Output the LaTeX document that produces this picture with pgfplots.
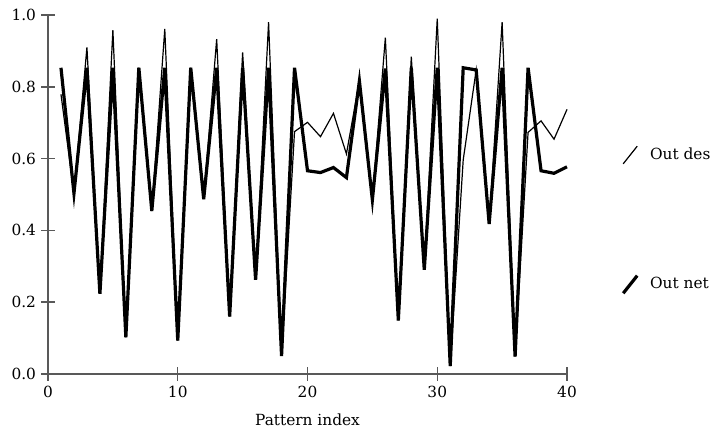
\documentclass[border=0pt]{standalone}
\usepackage{pgfplots}
\pgfplotsset{compat=1.18}
\usepackage{fontspec}
\setmainfont{DejaVu Serif}
\begin{document}
\fontsize{11.5}{13}\selectfont
\begin{tikzpicture}
\begin{axis}[
  scale only axis,
  width=389pt, height=269pt,
  xmin=0, xmax=40, ymin=0, ymax=1,
  axis x line=bottom, axis y line=left,
  axis line style={-, draw=black!65, line width=1.1pt},
  tick style={draw=black!65, line width=1.1pt},
  tick align=center, major tick length=10pt,
  xtick={0,10,20,30,40},
  ytick={0,0.2,0.4,0.6,0.8,1.0},
  yticklabel style={/pgf/number format/.cd, fixed, fixed zerofill, precision=1},
  /pgf/number format/assume math mode=true,
  xlabel={Pattern index},
  xlabel style={yshift=-4pt},
  legend cell align=left,
  legend style={draw=none, fill=none, at={(rel axis cs:1.097,0.645)}, anchor=north west,
    row sep=82pt, font=\fontsize{11.5}{13}\selectfont},
  legend image code/.code={\draw[#1] (0pt,-6.6pt) -- (10.5pt,6.6pt); \path (17pt,0pt);},
  clip=false,
]
\addplot[black, line width=0.9pt] coordinates {
(1,0.779)(2,0.503)(3,0.910)(4,0.223)(5,0.958)(6,0.102)(7,0.853)(8,0.454)(9,0.961)(10,0.093)
(11,0.853)(12,0.487)(13,0.933)(14,0.160)(15,0.896)(16,0.262)(17,0.980)(18,0.050)(19,0.675)(20,0.701)
(21,0.661)(22,0.726)(23,0.613)(24,0.816)(25,0.485)(26,0.937)(27,0.149)(28,0.884)(29,0.290)(30,0.990)
(31,0.022)(32,0.596)(33,0.847)(34,0.418)(35,0.980)(36,0.048)(37,0.673)(38,0.705)(39,0.654)(40,0.737)
};
\addlegendentry{Out des}
\addplot[black, line width=2.4pt, line join=miter] coordinates {
(1,0.853)(2,0.503)(3,0.853)(4,0.223)(5,0.853)(6,0.102)(7,0.853)(8,0.454)(9,0.853)(10,0.093)
(11,0.853)(12,0.487)(13,0.853)(14,0.160)(15,0.853)(16,0.262)(17,0.853)(18,0.050)(19,0.853)(20,0.566)
(21,0.561)(22,0.575)(23,0.547)(24,0.816)(25,0.485)(26,0.851)(27,0.149)(28,0.853)(29,0.290)(30,0.853)
(31,0.022)(32,0.853)(33,0.847)(34,0.418)(35,0.853)(36,0.048)(37,0.853)(38,0.566)(39,0.559)(40,0.577)
};
\addlegendentry{Out net}
\coordinate (bl) at (rel axis cs:-0.0925,-0.1671);
\coordinate (tr) at (rel axis cs:1.2948,1.0418);
\end{axis}
\pgfresetboundingbox
\path[use as bounding box] (bl) rectangle (tr);
\end{tikzpicture}
\end{document}
